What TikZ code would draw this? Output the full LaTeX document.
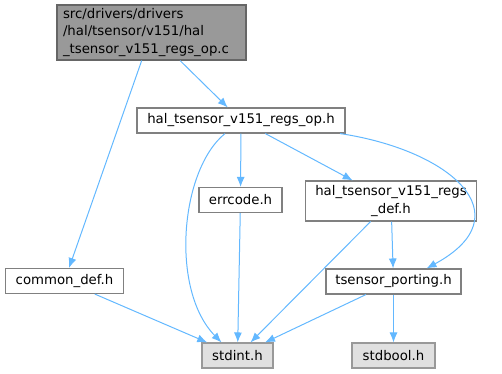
\documentclass[tikz,border=0pt]{standalone}
\usepackage{fontspec}
\setmainfont{DejaVu Sans}
\usetikzlibrary{arrows.meta}
\definecolor{edgeblue}{HTML}{63B8FF}
\definecolor{mainfill}{HTML}{999999}
\definecolor{mainline}{HTML}{666666}
\definecolor{sysfill}{HTML}{E0E0E0}
\definecolor{boxline}{HTML}{808080}
\begin{document}
\begin{tikzpicture}[x=1pt, y=-1pt, >={Latex[length=10pt,width=8pt]}]
    % --- Marco del dibujo ---
    \useasboundingbox (0,0) rectangle (502,373);

    % --- Estilos ---
    \tikzset{
        file/.style={draw=boxline, fill=white, line width=1.1pt, inner sep=0pt,
            minimum height=25pt, font=\fontsize{13.3}{17.5}\selectfont},
        sysfile/.style={file, draw=mainfill, fill=sysfill},
        mainfile/.style={file, draw=mainline, fill=mainfill, align=left,
            text width=177pt, inner xsep=6pt, minimum height=55pt},
        dep/.style={->, draw=edgeblue, line width=1pt}
    }

    % --- NODOS (Ficheros) ---
    \node[mainfile] (Main) at (151.5,32.5)
        {src/drivers/drivers\\/hal/tsensor/v151/hal\\\_tsensor\_v151\_regs\_op.c};
    \node[file, minimum width=208pt] (RegsOp) at (241,120.5) {hal\_tsensor\_v151\_regs\_op.h};
    \node[file, minimum width=83pt] (Errcode) at (240.5,200) {errcode.h};
    \node[file, minimum width=171pt, minimum height=40pt, align=center] (RegsDef) at (391,201)
        {hal\_tsensor\_v151\_regs\\\_def.h};
    \node[file, minimum width=118pt] (CommonDef) at (64.5,281) {common\_def.h};
    \node[file, minimum width=135pt] (Porting) at (393.5,281.5) {tsensor\_porting.h};
    \node[sysfile, minimum width=71pt] (Stdint) at (237.5,355.5) {stdint.h};
    \node[sysfile, minimum width=83pt] (Stdbool) at (393.5,355.5) {stdbool.h};

    % --- DEPENDENCIAS ---
    \draw[dep] (Main) -- (CommonDef);
    \draw[dep] (Main) -- (RegsOp);
    \draw[dep] ([xshift=-16pt]RegsOp.south) .. controls (180,170) and (170,290) .. ([xshift=-16pt]Stdint.north);
    \draw[dep] (RegsOp) -- (Errcode);
    \draw[dep] (RegsOp) -- (RegsDef);
    \draw[dep] ([xshift=99pt]RegsOp.south) .. controls (450,150) and (525,215) .. ([xshift=33pt]Porting.north);
    \draw[dep] (Errcode) -- (Stdint);
    \draw[dep] (RegsDef) -- (Stdint);
    \draw[dep] (RegsDef) -- (Porting);
    \draw[dep] (CommonDef) -- (Stdint);
    \draw[dep] (Porting) -- (Stdint);
    \draw[dep] (Porting) -- (Stdbool);

\end{tikzpicture}
\end{document}
